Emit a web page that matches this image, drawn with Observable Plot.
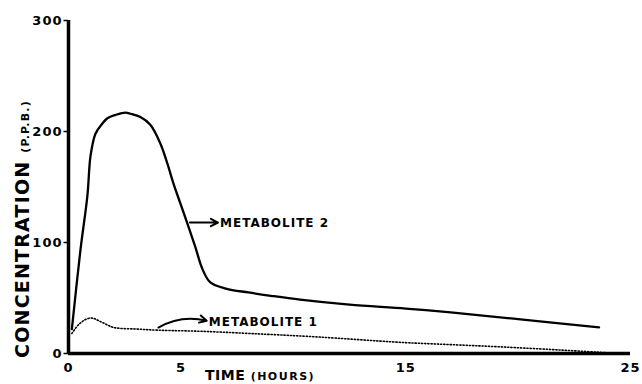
<!DOCTYPE html>
<html>
<head>
<meta charset="utf-8">
<script src="https://cdn.jsdelivr.net/npm/d3@7"></script>
<script src="https://cdn.jsdelivr.net/npm/@observablehq/plot@0.6"></script>
<style>
  body { margin: 0; background: #fff; }
  #chart svg { display: block; }
</style>
</head>
<body>
<div id="chart"></div>
<script>
// Metabolite 2 (solid line): time in hours, concentration in p.p.b.
const m2Time  = [0.15, 0.53, 0.84, 0.98, 1.2, 1.5, 1.73, 2.1, 2.53, 2.76, 3.2, 3.64, 4.09, 4.4, 4.67, 4.98, 5.29, 5.64, 5.96, 6.31, 7.0, 8.0, 9.0, 10.3, 12.5, 15, 17, 20, 23.6];
const m2Value = [22, 93, 142, 178, 198, 207, 212, 215, 217, 216, 213, 206, 189, 171, 153, 135, 117, 96, 76, 64, 58.5, 55, 52, 48.5, 44, 40.5, 37, 31, 23.5];
// Metabolite 1 (dotted line)
const m1Time  = [0.15, 0.5, 0.98, 1.5, 2.0, 3.07, 4, 5.9, 8.1, 11, 14.8, 17, 19.2, 22, 24.5];
const m1Value = [18, 27, 32, 28, 23.5, 22, 21, 20, 18, 15, 10, 8, 6, 3, 0];
// Axis ticks
const xTicks = [0, 5, 15, 25];
const yTicks = [0, 100, 200, 300];
// Annotation labels (label position = arrow tip)
const labelNames = ["METABOLITE 2", "METABOLITE 1"];
const labelTime  = [6.65, 6.15];
const labelValue = [118, 29.5];
const arrowStartTime  = [5.4, 4.0];
const arrowStartValue = [118, 23.4];

const m2 = m2Time.map((t, i) => ({t, v: m2Value[i]}));
const m1 = m1Time.map((t, i) => ({t, v: m1Value[i]}));
const labels = labelNames.map((name, i) => ({name, t: labelTime[i], v: labelValue[i],
  t0: arrowStartTime[i], v0: arrowStartValue[i]}));

const font = "DejaVu Sans, sans-serif";

const plot = Plot.plot({
  width: 642,
  height: 384,
  marginLeft: 68,
  marginRight: 12,
  marginTop: 20,
  marginBottom: 31,
  style: {fontFamily: font, fontWeight: "bold", fontSize: "13px", background: "#fff", color: "#000"},
  x: {type: "linear", domain: [0, 25], axis: null},
  y: {type: "linear", domain: [0, 300], axis: null},
  marks: [
    Plot.line(m1, {x: "t", y: "v", stroke: "#000", strokeWidth: 1.6, strokeDasharray: "1.2,2", curve: "catmull-rom"}),
    Plot.line(m2, {x: "t", y: "v", stroke: "#000", strokeWidth: 2.3, curve: "catmull-rom"}),
    Plot.ruleX([0], {y1: 0, y2: 300, stroke: "#000", strokeWidth: 3.5}),
    Plot.ruleY([0], {x1: 0, x2: 25, stroke: "#000", strokeWidth: 3.5}),
    Plot.ruleY(yTicks, {x1: -0.2, x2: 0, stroke: "#000", strokeWidth: 1.5}),
    Plot.text(yTicks, {x: 0, y: d => d, text: d => String(d), dx: -6, textAnchor: "end", fontSize: 13, fontWeight: "bold"}),
    Plot.text(xTicks, {x: d => d, y: 0, text: d => String(d), dy: 14, fontSize: 13, fontWeight: "bold"}),
    Plot.arrow([labels[0]], {x1: "t0", y1: "v0", x2: "t", y2: "v", stroke: "#000", strokeWidth: 2, headLength: 6, headAngle: 55}),
    Plot.arrow([labels[1]], {x1: "t0", y1: "v0", x2: "t", y2: "v", bend: 22, stroke: "#000", strokeWidth: 2, headLength: 6, headAngle: 55}),
    Plot.text(labels, {x: "t", y: "v", text: "name", textAnchor: "start", fontSize: 12, fontWeight: "bold", dx: 2, dy: 1})
  ]
});

const svg = d3.select(plot);
svg.selectAll("text").style("letter-spacing", "1px");
// Y-axis title
const yt = svg.append("text")
  .attr("transform", "translate(29,229) rotate(-90)")
  .attr("text-anchor", "middle")
  .attr("font-family", font)
  .attr("font-weight", "bold")
  .attr("fill", "#000")
  .style("letter-spacing", "1.2px");
yt.append("tspan").attr("font-size", 19).text("CONCENTRATION ");
yt.append("tspan").attr("font-size", 11).text("(P.P.B.)");
// X-axis title
const xt = svg.append("text")
  .attr("x", 205).attr("y", 380)
  .attr("text-anchor", "start")
  .attr("font-family", font)
  .attr("font-weight", "bold")
  .attr("fill", "#000");
xt.append("tspan").attr("font-size", 14).style("letter-spacing", "0.5px").text("TIME ");
xt.append("tspan").attr("font-size", 11).style("letter-spacing", "1.5px").text("(HOURS)");

document.getElementById("chart").appendChild(plot);
</script>
</body>
</html>
